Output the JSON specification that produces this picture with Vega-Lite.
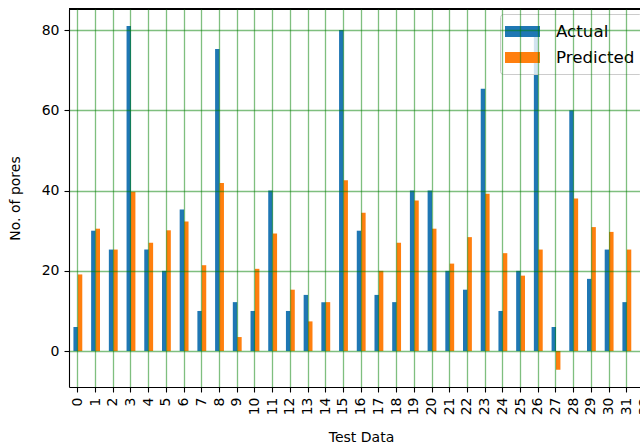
{
  "$schema": "https://vega.github.io/schema/vega-lite/v6.json",
  "width": 571,
  "height": 378,
  "autosize": {"type": "none"},
  "padding": {"left": 69, "top": 9, "right": 0, "bottom": 57},
  "background": "white",
  "config": {"view": {"stroke": null}, "font": "DejaVu Sans"},
  "data": {
    "values": [
      {"test": 0, "Actual": 6, "Predicted": 19.1},
      {"test": 1, "Actual": 30, "Predicted": 30.5},
      {"test": 2, "Actual": 25.3, "Predicted": 25.3},
      {"test": 3, "Actual": 81, "Predicted": 39.7},
      {"test": 4, "Actual": 25.3, "Predicted": 27.0},
      {"test": 5, "Actual": 20, "Predicted": 30.1},
      {"test": 6, "Actual": 35.3, "Predicted": 32.3},
      {"test": 7, "Actual": 10, "Predicted": 21.4},
      {"test": 8, "Actual": 75.3, "Predicted": 41.9},
      {"test": 9, "Actual": 12.2, "Predicted": 3.5},
      {"test": 10, "Actual": 10, "Predicted": 20.5},
      {"test": 11, "Actual": 40, "Predicted": 29.3},
      {"test": 12, "Actual": 10, "Predicted": 15.3},
      {"test": 13, "Actual": 14, "Predicted": 7.4},
      {"test": 14, "Actual": 12.2, "Predicted": 12.2},
      {"test": 15, "Actual": 80, "Predicted": 42.6},
      {"test": 16, "Actual": 30, "Predicted": 34.5},
      {"test": 17, "Actual": 14, "Predicted": 20.0},
      {"test": 18, "Actual": 12.2, "Predicted": 27.0},
      {"test": 19, "Actual": 40, "Predicted": 37.5},
      {"test": 20, "Actual": 40, "Predicted": 30.5},
      {"test": 21, "Actual": 20, "Predicted": 21.8},
      {"test": 22, "Actual": 15.3, "Predicted": 28.4},
      {"test": 23, "Actual": 65.4, "Predicted": 39.2},
      {"test": 24, "Actual": 10, "Predicted": 24.4},
      {"test": 25, "Actual": 20, "Predicted": 18.8},
      {"test": 26, "Actual": 81, "Predicted": 25.3},
      {"test": 27, "Actual": 6, "Predicted": -4.65},
      {"test": 28, "Actual": 60, "Predicted": 38.0},
      {"test": 29, "Actual": 18, "Predicted": 30.9},
      {"test": 30, "Actual": 25.3, "Predicted": 29.7},
      {"test": 31, "Actual": 12.2, "Predicted": 25.3},
      {"test": 32, "Actual": 30, "Predicted": 27}
    ]
  },
  "transform": [{"fold": ["Actual", "Predicted"], "as": ["series", "value"]}],
  "layer": [
    {
      "mark": {"type": "bar", "clip": true},
      "encoding": {
        "x": {
          "field": "test",
          "type": "ordinal",
          "sort": "ascending",
          "scale": {"range": [0, 584.4], "paddingInner": 0, "paddingOuter": 0},
          "axis": {
            "title": "Test Data",
            "labelAngle": 270,
            "labelFontSize": 14,
            "labelColor": "black",
            "labelPadding": 5,
            "labelOverlap": false,
            "tickSize": 5,
            "tickWidth": 1.1,
            "tickColor": "black",
            "domainColor": "black",
            "domainWidth": 1.1,
            "grid": true,
            "gridColor": "#008000",
            "gridOpacity": 0.5,
            "gridWidth": 1.3,
            "bandPosition": 0.5,
            "zindex": 1,
            "titleFontSize": 14,
            "titleFontWeight": "normal",
            "titleColor": "black",
            "titleX": 292,
            "titleY": 50,
            "titleBaseline": "middle"
          }
        },
        "xOffset": {
          "field": "series",
          "type": "nominal",
          "scale": {"paddingInner": 0, "paddingOuter": 1}
        },
        "y": {
          "field": "value",
          "type": "quantitative",
          "scale": {"domain": [-8.95, 85.25], "nice": false, "zero": false},
          "axis": {
            "title": "No. of pores",
            "values": [0, 20, 40, 60, 80],
            "labelFontSize": 14,
            "labelColor": "black",
            "labelPadding": 5,
            "tickSize": 5,
            "tickWidth": 1.1,
            "tickColor": "black",
            "domainColor": "black",
            "domainWidth": 1.1,
            "grid": true,
            "gridColor": "#008000",
            "gridOpacity": 0.5,
            "gridWidth": 1.3,
            "zindex": 1,
            "titleFontSize": 14,
            "titleFontWeight": "normal",
            "titleColor": "black",
            "titleX": -54,
            "titleBaseline": "middle"
          }
        },
        "y2": {"datum": 0},
        "color": {
          "field": "series",
          "type": "nominal",
          "scale": {"domain": ["Actual", "Predicted"], "range": ["#1f77b4", "#ff7f0e"]},
          "legend": {
            "title": null,
            "orient": "none",
            "legendX": 431,
            "legendY": 5,
            "padding": 7.5,
            "rowPadding": 7,
            "symbolType": "M-1.25,-0.55H2.25V0.55H-1.25Z",
            "symbolSize": 400,
            "symbolStrokeWidth": 0,
            "symbolOpacity": 1,
            "labelOffset": 28.5,
            "labelFontSize": 16.7,
            "labelColor": "black",
            "fillColor": "rgba(255,255,255,0.8)",
            "strokeColor": "#cccccc",
            "cornerRadius": 3
          }
        }
      }
    },
    {
      "mark": {"type": "rule", "color": "black", "strokeWidth": 1.1},
      "encoding": {"y": {"datum": 85.25}}
    }
  ]
}
